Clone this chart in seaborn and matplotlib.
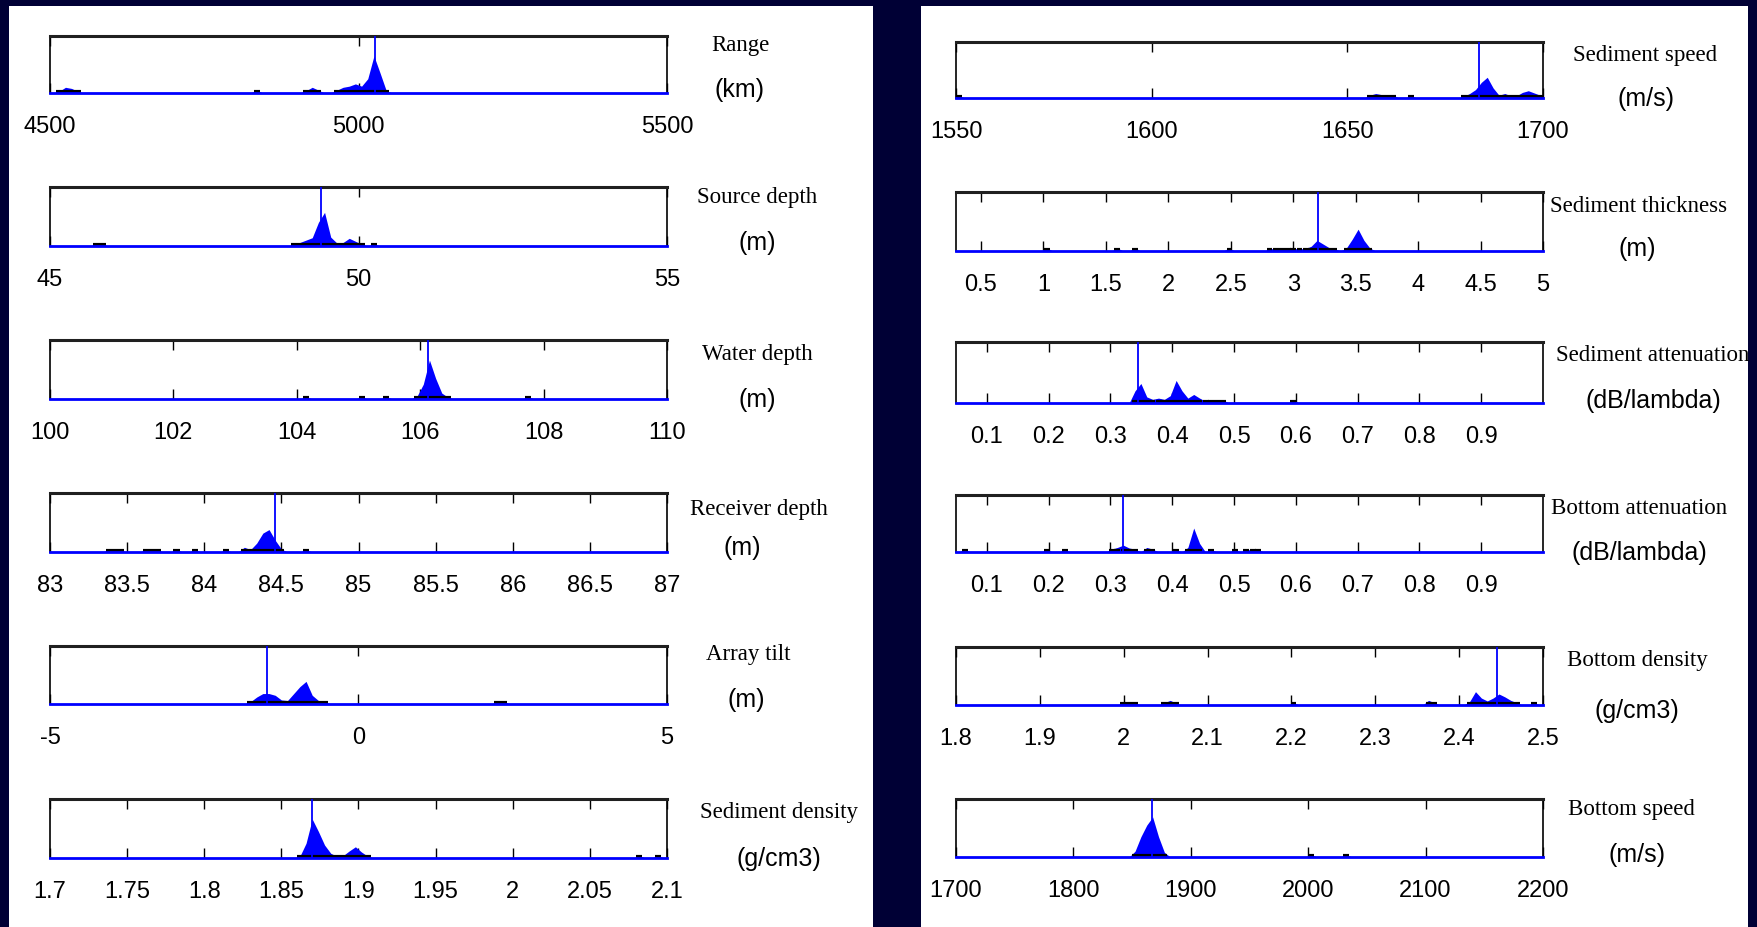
import numpy as np
import pandas as pd
import matplotlib
matplotlib.use('Agg')
import matplotlib.pyplot as plt
import seaborn as sns
from matplotlib.patches import Rectangle

# histogram data: bin centres and heights
# (100 bins per axis, heights in % of the axes height)
range_x = [4515, 4525, 4535, 4545, 4835, 4915, 4925, 4935, 4965, 4975, 4985, 4995, 5005,
           5015, 5025, 5035, 5045]
range_h = [3, 10, 8, 3, 5, 4, 10, 5, 5, 10, 12, 16, 12, 25, 65, 35, 4]
range_true = 5026

src_x = [45.75, 45.85, 48.95, 49.05, 49.15, 49.25, 49.35, 49.45, 49.55, 49.65, 49.75, 49.85,
         49.95, 50.05, 50.25]
src_h = [4, 3, 3, 6, 10, 14, 40, 57, 15, 5, 6, 13, 8, 3, 4]
src_true = 49.39

water_x = [104.15, 105.05, 105.45, 105.95, 106.05, 106.15, 106.25, 106.35, 106.45, 107.75]
water_h = [4, 4, 4, 5, 25, 66, 35, 10, 3, 4]
water_true = 106.12

recv_x = [83.38, 83.42, 83.46, 83.62, 83.66, 83.70, 83.82, 83.94, 84.14, 84.26, 84.30, 84.34,
          84.38, 84.42, 84.46, 84.50, 84.66]
recv_h = [4, 4, 3, 4, 4, 3, 4, 4, 4, 8, 4, 15, 32, 38, 20, 5, 4]
recv_true = 84.46

tilt_x = [-1.75, -1.65, -1.55, -1.45, -1.35, -1.25, -1.15, -1.05, -0.95, -0.85, -0.75, -0.65,
          -0.55, 2.25, 2.35]
tilt_h = [4, 12, 18, 18, 15, 7, 6, 18, 30, 39, 15, 6, 4, 5, 5]
tilt_true = -1.49

sdens_x = [1.862, 1.866, 1.870, 1.874, 1.878, 1.882, 1.886, 1.890, 1.894, 1.898, 1.902, 1.906,
           2.082, 2.094]
sdens_h = [3, 25, 66, 45, 22, 8, 3, 4, 12, 19, 10, 3, 4, 4]
sdens_true = 1.870

sspeed_x = [1550.75, 1655.75, 1657.25, 1658.75, 1660.25, 1661.75, 1666.25, 1679.75, 1681.25,
            1682.75, 1684.25, 1685.75, 1687.25, 1688.75, 1690.25, 1691.75, 1693.25, 1694.75,
            1696.25, 1697.75, 1699.25]
sspeed_h = [4, 5, 8, 6, 5, 5, 4, 3, 8, 15, 28, 37, 18, 5, 8, 4, 4, 10, 13, 9, 5]
sspeed_true = 1683.6

sthick_x = [1.03, 1.59, 1.73, 2.49, 2.81, 2.86, 2.91, 2.96, 3.0, 3.05, 3.1, 3.14, 3.19, 3.24,
            3.28, 3.33, 3.43, 3.47, 3.52, 3.57, 3.61]
sthick_h = [5, 5, 5, 5, 4, 4, 4, 4, 4, 4, 4, 8, 18, 12, 6, 4, 5, 20, 37, 18, 5]
sthick_true = 3.196

satt_x = [0.34, 0.349, 0.359, 0.368, 0.378, 0.387, 0.397, 0.406, 0.416, 0.425, 0.435, 0.444,
          0.454, 0.463, 0.473, 0.482, 0.596]
satt_h = [20, 32, 10, 6, 8, 6, 12, 37, 20, 8, 14, 8, 3, 5, 5, 5, 4]
satt_true = 0.345

batt_x = [0.064, 0.197, 0.226, 0.302, 0.311, 0.321, 0.33, 0.34, 0.359, 0.368, 0.406, 0.425,
          0.435, 0.444, 0.463, 0.501, 0.52, 0.53, 0.539]
batt_h = [5, 4, 4, 5, 8, 12, 7, 5, 8, 5, 4, 8, 42, 15, 4, 4, 4, 4, 4]
batt_true = 0.3205

bdens_x = [1.9995, 2.0065, 2.0135, 2.0485, 2.0555, 2.0625, 2.2025, 2.3635, 2.3705, 2.4125,
           2.4195, 2.4265, 2.4335, 2.4405, 2.4475, 2.4545, 2.4615, 2.4685, 2.4895]
bdens_h = [4, 4, 4, 4, 8, 3, 4, 8, 4, 6, 23, 12, 7, 12, 19, 14, 8, 4, 4]
bdens_true = 2.4447

bspeed_x = [1852.5, 1857.5, 1862.5, 1867.5, 1872.5, 1877.5, 2002.5, 2032.5]
bspeed_h = [10, 35, 55, 69, 35, 8, 4, 4]
bspeed_true = 1866.7

# axis ticks
range_ticks = [4500, 5000, 5500]
src_ticks = [45, 50, 55]
water_ticks = [100, 102, 104, 106, 108, 110]
recv_ticks = [83, 83.5, 84, 84.5, 85, 85.5, 86, 86.5, 87]
tilt_ticks = [-5, 0, 5]
sdens_ticks = [1.7, 1.75, 1.8, 1.85, 1.9, 1.95, 2, 2.05, 2.1]
sspeed_ticks = [1550, 1600, 1650, 1700]
sthick_ticks = [0.5, 1, 1.5, 2, 2.5, 3, 3.5, 4, 4.5, 5]
att_ticks = [0.1, 0.2, 0.3, 0.4, 0.5, 0.6, 0.7, 0.8, 0.9]
bdens_ticks = [1.8, 1.9, 2, 2.1, 2.2, 2.3, 2.4, 2.5]
bspeed_ticks = [1700, 1800, 1900, 2000, 2100, 2200]

names = ['Range', 'Source depth', 'Water depth', 'Receiver depth', 'Array tilt',
         'Sediment density', 'Sediment speed', 'Sediment thickness', 'Sediment attenuation',
         'Bottom attenuation', 'Bottom density', 'Bottom speed']
units = ['(km)', '(m)', '(m)', '(m)', '(m)', '(g/cm3)', '(m/s)', '(m)', '(dB/lambda)',
         '(dB/lambda)', '(g/cm3)', '(m/s)']

panels = [
    (range_x, range_h, range_true, (4500, 5500), range_ticks),
    (src_x, src_h, src_true, (45, 55), src_ticks),
    (water_x, water_h, water_true, (100, 110), water_ticks),
    (recv_x, recv_h, recv_true, (83, 87), recv_ticks),
    (tilt_x, tilt_h, tilt_true, (-5, 5), tilt_ticks),
    (sdens_x, sdens_h, sdens_true, (1.7, 2.1), sdens_ticks),
    (sspeed_x, sspeed_h, sspeed_true, (1550, 1700), sspeed_ticks),
    (sthick_x, sthick_h, sthick_true, (0.3, 5), sthick_ticks),
    (satt_x, satt_h, satt_true, (0.05, 1.0), att_ticks),
    (batt_x, batt_h, batt_true, (0.05, 1.0), att_ticks),
    (bdens_x, bdens_h, bdens_true, (1.8, 2.5), bdens_ticks),
    (bspeed_x, bspeed_h, bspeed_true, (1700, 2200), bspeed_ticks),
]

# layout in pixels
W, H = 1758, 928
left_rows = [(37, 94), (188, 247), (341, 400), (494, 553), (647, 705), (800, 859)]
right_rows = [(43, 99), (193, 252), (343, 404), (496, 553), (648, 706), (800, 858)]
name_pos = [(740, 45), (757, 197), (757, 355), (759, 509), (748, 655), (779, 813),
            (1645, 55), (1639, 207), (1653, 356), (1639, 508), (1637, 661), (1631, 810)]
unit_pos = [(740, 90), (757, 243), (757, 400), (742, 548), (746, 700), (779, 859),
            (1646, 99), (1637, 249), (1653, 401), (1639, 553), (1637, 711), (1637, 855)]

sns.set_style('white')
plt.rcParams['font.family'] = ['Liberation Sans', 'DejaVu Sans']

fig = plt.figure(figsize=(W / 100, H / 100), dpi=100, facecolor='#000035')

for x0, x1 in [(9, 873), (921, 1748)]:
    fig.add_artist(Rectangle((x0 / W, 0), (x1 - x0) / W, 1 - 7 / H, transform=fig.transFigure,
                             facecolor='white', edgecolor='none', zorder=-1))

blue = '#0000ff'
for i, (xs, hs, true_val, (lo, hi), ticks) in enumerate(panels):
    if i < 6:
        x0, x1 = 50, 667
        top, bot = left_rows[i]
    else:
        x0, x1 = 956, 1543
        top, bot = right_rows[i - 6]
    ax = fig.add_axes([x0 / W, 1 - bot / H, (x1 - x0) / W, (bot - top) / H])

    df = pd.DataFrame({'value': xs, 'height': hs})
    bins = list(np.linspace(lo, hi, 101))
    bw = (hi - lo) / 100
    sns.histplot(data=df, x='value', weights='height', bins=bins, element='poly', fill=True,
                 color=blue, alpha=1, linewidth=0, ax=ax)
    ax.hlines([1.5] * len(df), df['value'] - bw / 2, df['value'] + bw / 2, colors='black',
              lw=3, zorder=3)
    ax.axvline(true_val, color=blue, lw=1.3, zorder=4)

    ax.set_xlim(lo, hi)
    ax.set_ylim(0, 100)
    ax.set_yticks([])
    ax.set_ylabel('')
    ax.set_xlabel('')
    ax.set_xticks(ticks)
    ax.set_xticklabels(['%g' % t for t in ticks])
    ax.tick_params(axis='x', direction='in', top=True, bottom=True, length=7, width=1,
                   color='black', labelsize=17, pad=15.5, labelcolor='black')
    for s in ax.spines.values():
        s.set_visible(True)
        s.set_color('black')
        s.set_linewidth(1.2)
    ax.spines['top'].set_linewidth(2.2)
    ax.spines['top'].set_color('#202020')
    ax.spines['bottom'].set_color(blue)
    ax.spines['bottom'].set_linewidth(2)
    ax.spines['bottom'].set_zorder(5)

    nx, ny = name_pos[i]
    fig.text(nx / W, 1 - ny / H, names[i], ha='center', va='center', fontsize=16.5,
             family='Liberation Serif', color='black')
    ux, uy = unit_pos[i]
    fig.text(ux / W, 1 - uy / H, units[i], ha='center', va='center', fontsize=18,
             color='black')

fig.savefig('out.png', dpi=100, facecolor=fig.get_facecolor())
